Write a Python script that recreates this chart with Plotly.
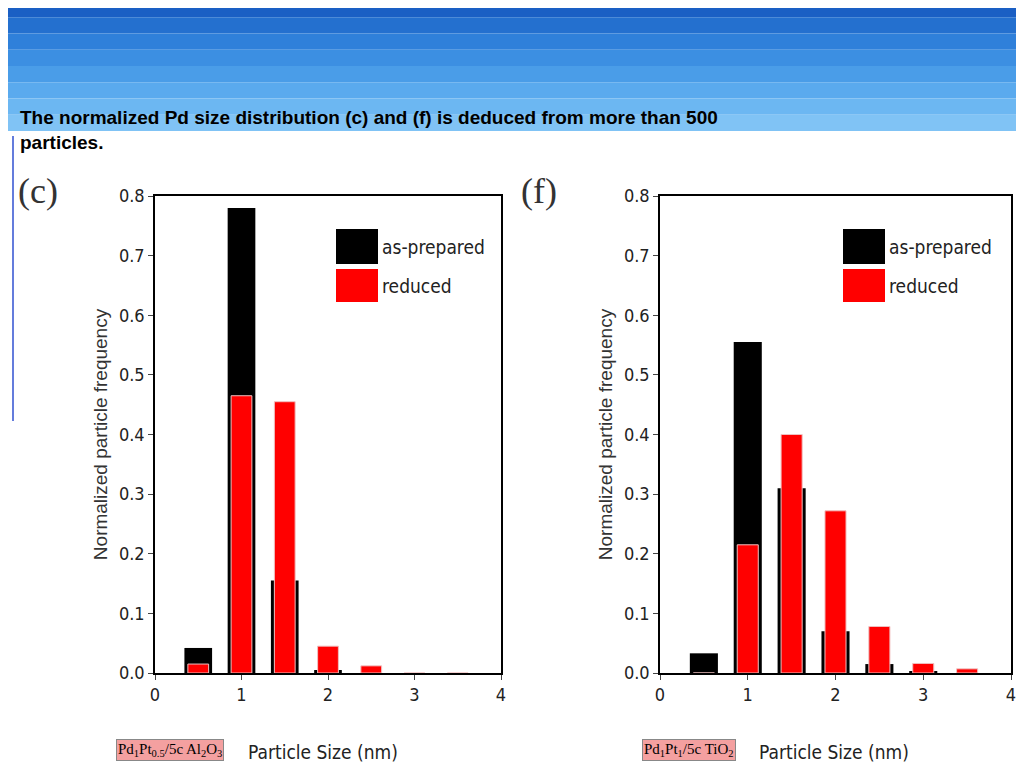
import plotly.graph_objects as go
from plotly.subplots import make_subplots

sizes = [0.5, 1.0, 1.5, 2.0, 2.5, 3.0, 3.5]
c_prepared = [0.042, 0.78, 0.155, 0.005, 0.0, 0.0, 0.0]
c_reduced = [0.015, 0.465, 0.455, 0.045, 0.012, 0.0, 0.0]
f_prepared = [0.033, 0.555, 0.31, 0.07, 0.015, 0.002, 0.0]
f_reduced = [0.0, 0.215, 0.40, 0.272, 0.078, 0.016, 0.007]
y_ticks = [0.0, 0.1, 0.2, 0.3, 0.4, 0.5, 0.6, 0.7, 0.8]
x_ticks = [0, 1, 2, 3, 4]

narrow = "DejaVu Sans Condensed, Liberation Sans Narrow, Liberation Sans"


def px(x):
    return (x - 147) / 856


def py(y):
    return (672 - y) / 477


fig = make_subplots(rows=1, cols=2)
for col, prep, red in [(1, c_prepared, c_reduced), (2, f_prepared, f_reduced)]:
    fig.add_trace(go.Bar(x=sizes, y=prep, width=0.32, name="as-prepared", marker_color="black",
                         marker_line_width=0, showlegend=False), row=1, col=col)
    fig.add_trace(go.Bar(x=sizes, y=red, width=0.24, name="reduced", marker_color="#ff0000",
                         marker_line=dict(color="#f0c0c0", width=1), showlegend=False), row=1, col=col)

axis_style = dict(showline=True, mirror=True, linecolor="black", linewidth=1.5, ticks="outside",
                  ticklen=5, showgrid=False, zeroline=False,
                  tickfont=dict(family=narrow, size=18, color="#222"))
fig.update_xaxes(range=[0, 4], tickvals=x_ticks, **axis_style)
fig.update_yaxes(range=[0, 0.8], tickvals=y_ticks, tickformat=".1f", **axis_style,
                 title=dict(text="Normalized particle frequency", font=dict(family="Liberation Sans", size=19, color="#333"), standoff=6))
fig.update_layout(xaxis=dict(domain=[0, px(493)]), xaxis2=dict(domain=[px(652), 1]))

fig.update_layout(
    width=1024, height=768, barmode="overlay", plot_bgcolor="white", paper_bgcolor="white",
    margin=dict(l=147, r=21, t=188, b=103), showlegend=False,
)

# blue header band (gradient approximated by strips)
blues = ["#1a5fc4", "#2470cf", "#2f80da", "#3c8fe2", "#4a9de8", "#5aaaee", "#6cb7f2", "#80c3f5"]
n = len(blues)
for i, c in enumerate(blues):
    fig.add_shape(type="rect", xref="paper", yref="paper", x0=px(0), x1=px(1024),
                  y0=py(130 * (i + 1) / n), y1=py(130 * i / n), fillcolor=c, line_width=0, layer="below")
fig.add_shape(type="line", xref="paper", yref="paper", x0=px(5), x1=px(5), y0=py(420), y1=py(135),
              line=dict(color="#3050d0", width=1.5))
fig.add_shape(type="line", xref="paper", yref="paper", x0=px(1013), x1=px(1013), y0=py(425), y1=py(135),
              line=dict(color="black", width=2))
fig.add_shape(type="line", xref="paper", yref="paper", x0=px(1013), x1=px(1013), y0=py(690), y1=py(440),
              line=dict(color="black", width=2))

fig.add_annotation(xref="paper", yref="paper", x=px(10), y=py(104), xanchor="left", yanchor="top",
                   text="<b>The normalized Pd size distribution (c) and (f) is deduced from more than 500<br>particles.</b>",
                   align="left", showarrow=False, font=dict(family="Liberation Sans", size=19, color="black"))
for xl, lab in [(8, "(c)"), (511, "(f)")]:
    fig.add_annotation(xref="paper", yref="paper", x=px(xl), y=py(168), xanchor="left", yanchor="top",
                       text=lab, showarrow=False, font=dict(family="Liberation Serif", size=36, color="#333"))

# legend boxes
for x0 in [328, 835]:
    for (ya, yb, color, label) in [(228, 263, "black", "as-prepared"), (268, 301, "#ff0000", "reduced")]:
        fig.add_shape(type="rect", xref="paper", yref="paper", x0=px(x0), x1=px(x0 + 42),
                      y0=py(yb), y1=py(ya), fillcolor=color, line_width=0)
        fig.add_annotation(xref="paper", yref="paper", x=px(x0 + 44), y=py((ya + yb) / 2),
                           xanchor="left", yanchor="middle",
                           text=label, showarrow=False, font=dict(family=narrow, size=19, color="#222"))

for xc, cap in [(162, "Pd<sub>1</sub>Pt<sub>0.5</sub>/5c Al<sub>2</sub>O<sub>3</sub>"),
                (681, "Pd<sub>1</sub>Pt<sub>1</sub>/5c TiO<sub>2</sub>")]:
    fig.add_annotation(xref="paper", yref="paper", x=px(xc), y=py(749), xanchor="center", yanchor="middle",
                       text=cap, showarrow=False, bgcolor="#f4a0a0", bordercolor="#888", borderwidth=1,
                       font=dict(family="Liberation Serif", size=15, color="black"))
for xc in [315, 826]:
    fig.add_annotation(xref="paper", yref="paper", x=px(xc), y=py(751), xanchor="center", yanchor="middle",
                       text="Particle Size (nm)", showarrow=False,
                       font=dict(family=narrow, size=19, color="#222"))

fig.write_html("out.html")
